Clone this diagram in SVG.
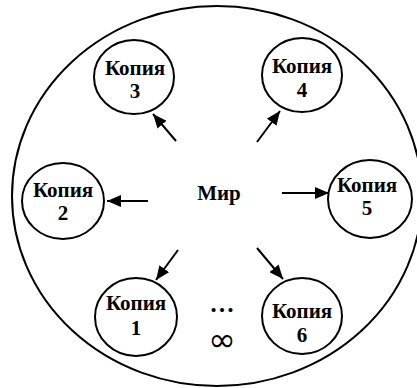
<svg xmlns="http://www.w3.org/2000/svg" width="417" height="388" viewBox="0 0 417 388">
  <style>
    .node ellipse { fill: #fff; stroke: #000; stroke-width: 2; }
    .lbl { font-family: "Liberation Serif", "Times New Roman", serif; font-weight: bold; font-size: 21px; fill: #000; text-anchor: middle; }
    .edge { stroke: #000; stroke-width: 2; fill: none; marker-end: url(#head); }
  </style>
  <defs>
    <marker id="head" viewBox="0 0 14 12" refX="14" refY="6" markerWidth="14" markerHeight="12" markerUnits="userSpaceOnUse" orient="auto">
      <path d="M0,0 L14,6 L0,12 Z" fill="#000"/>
    </marker>
  </defs>

  <!-- outer boundary -->
  <ellipse cx="217" cy="196" rx="205" ry="190" fill="#fff" stroke="#000" stroke-width="2"/>

  <!-- centre label -->
  <g id="world">
    <text class="lbl" x="219" y="200">Мир</text>
  </g>

  <!-- connectors -->
  <g id="connectors">
    <line class="edge" x1="176" y1="141" x2="153" y2="114"/>
    <line class="edge" x1="257" y1="142" x2="280" y2="111"/>
    <line class="edge" x1="148" y1="201" x2="107" y2="201"/>
    <line class="edge" x1="282" y1="193" x2="329" y2="193"/>
    <line class="edge" x1="178" y1="250" x2="156" y2="280"/>
    <line class="edge" x1="257" y1="248" x2="283" y2="279"/>
  </g>

  <g id="copy3" class="node">
    <ellipse cx="134" cy="77" rx="40" ry="37"/>
    <text class="lbl" x="135" y="75">Копия</text>
    <text class="lbl" x="135" y="98">3</text>
  </g>
  <g id="copy4" class="node">
    <ellipse cx="302" cy="75" rx="40" ry="37"/>
    <text class="lbl" x="302" y="73">Копия</text>
    <text class="lbl" x="302" y="97">4</text>
  </g>
  <g id="copy2" class="node">
    <ellipse cx="63" cy="201" rx="41" ry="38"/>
    <text class="lbl" x="63" y="197">Копия</text>
    <text class="lbl" x="63" y="220">2</text>
  </g>
  <g id="copy5" class="node">
    <ellipse cx="370" cy="199" rx="42" ry="39"/>
    <text class="lbl" x="367" y="192">Копия</text>
    <text class="lbl" x="367" y="215">5</text>
  </g>
  <g id="copy1" class="node">
    <ellipse cx="136" cy="317" rx="41" ry="39"/>
    <text class="lbl" x="136" y="310">Копия</text>
    <text class="lbl" x="136" y="335">1</text>
  </g>
  <g id="copy6" class="node">
    <ellipse cx="302" cy="316" rx="40" ry="38"/>
    <text class="lbl" x="302" y="318">Копия</text>
    <text class="lbl" x="302" y="342">6</text>
  </g>

  <!-- continuation marks -->
  <g id="more">
    <text class="lbl" x="222" y="312" style="font-size:25px">…</text>
    <text x="222" y="351" text-anchor="middle" font-family="DejaVu Sans, sans-serif" font-size="33" fill="#000">∞</text>
  </g>
</svg>
